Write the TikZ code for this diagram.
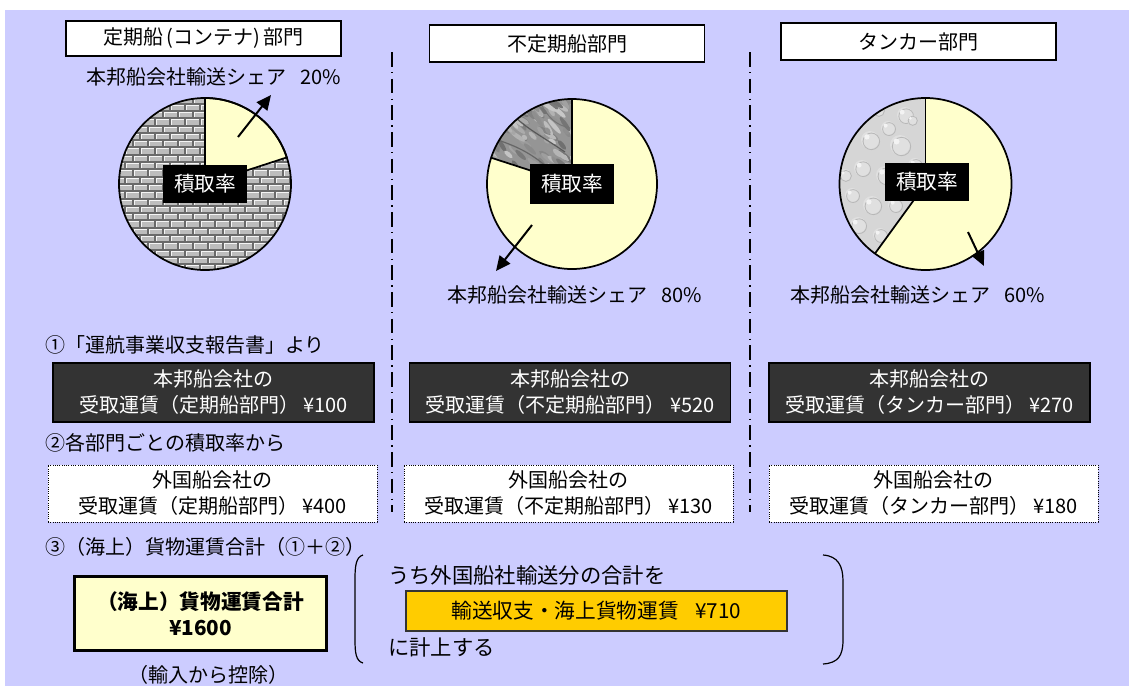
\documentclass[tikz,border=0pt]{standalone}
\usepackage{fontspec}
\setmainfont{Noto Sans CJK JP}
\usetikzlibrary{arrows.meta}
\definecolor{lav}{HTML}{CCCCFF}
\definecolor{pieyel}{HTML}{FFFFCC}
\definecolor{boxdark}{HTML}{333333}
\definecolor{orangebox}{HTML}{FFCC00}
\definecolor{mortar}{HTML}{6A6A6A}
\definecolor{brick}{HTML}{BDBDBD}
\definecolor{granite}{HTML}{959595}
\definecolor{pebble}{HTML}{D6D6D6}
\tikzset{
  txt/.style={font=\fontsize{15}{19.5}\selectfont, inner sep=0pt, align=center},
  lefttxt/.style={font=\fontsize{15}{19.5}\selectfont, inner sep=0pt, anchor=west},
  bigtxt/.style={font=\fontsize{16}{20}\selectfont, inner sep=0pt, anchor=west},
  titlebox/.style={draw=black, line width=1.1pt, fill=white, minimum width=206pt, minimum height=26.5pt, inner sep=0pt, font=\fontsize{15}{19.5}\selectfont},
  ratebox/.style={fill=black, text=white, minimum width=63pt, minimum height=28.5pt, inner sep=0pt, font=\fontsize{15.5}{19.5}\selectfont},
  darkbox/.style={fill=boxdark, draw=black, line width=1pt, text=white, minimum width=240.75pt, minimum height=44.25pt, inner sep=0pt, align=center, font=\fontsize{15}{19.5}\selectfont},
  whitebox/.style={fill=white, draw=black, densely dotted, line width=0.7pt, minimum width=246.75pt, minimum height=42.75pt, inner sep=0pt, align=center, font=\fontsize{15}{19.5}\selectfont},
  totalbox/.style={fill=pieyel, draw=black, line width=2.4pt, minimum width=189pt, minimum height=55.5pt, inner sep=0pt, align=center, font=\fontsize{15.5}{19.5}\selectfont\bfseries},
  orangebx/.style={fill=orangebox, draw=boxdark, line width=0.8pt, minimum width=285.75pt, minimum height=30pt, inner sep=0pt, font=\fontsize{15.5}{19.5}\selectfont},
  ptr/.style={line width=1.5pt, -{Triangle[length=11pt,width=10pt]}},
  sep/.style={line width=1.3pt, dash pattern=on 11pt off 4pt on 1pt off 4pt},
  pieline/.style={line width=1.3pt, draw=black},
  brk/.style={line width=0.9pt, draw=black}
}
\begin{document}
\begin{tikzpicture}[x=0.75pt,y=-0.75pt]
\useasboundingbox (0,0) rectangle (1129,686);
\fill[white] (0,0) rectangle (1129,686);
\fill[lav] (5,10) rectangle (1129,686);

% separators
\coordinate (s1t) at (392,52); \coordinate (s1b) at (392,512);
\coordinate (s2t) at (750,52); \coordinate (s2b) at (750,512);
\draw[sep] (s1t) -- (s1b);
\draw[sep] (s2t) -- (s2b);

% titles
\node[titlebox] (t1) at (203.5,38.5) {定期船\,(コンテナ)\,部門};
\node[titlebox, minimum height=27.75pt] (t2) at (567,43.5) {不定期船部門};
\node[titlebox, minimum height=27.75pt] (t3) at (918.5,41.5) {タンカー部門};

% ---------- pie 1 ----------
\coordinate (p1) at (205,184);
\begin{scope}
  \clip (p1) circle[radius=86];
  \fill[mortar] (p1) circle[radius=86];
  \foreach \r in {0,...,24} {
    \pgfmathsetmacro\yy{96+\r*7.3}
    \pgfmathsetmacro\off{mod(\r,2)*7.5}
    \foreach \c in {0,...,13} {
      \fill[brick] ({104+\off+\c*15},{\yy+1.6}) rectangle ++(12.6,5);
      \draw[white!85!brick, line width=0.4pt] ({104+\off+\c*15},{\yy+6.6}) -- ++(0,-5) -- ++(12.6,0);
    }
  }
\end{scope}
\filldraw[fill=pieyel, pieline] (p1) -- ++(-90:86) arc[start angle=-90, end angle=-18, radius=86] -- cycle;
\draw[pieline] (p1) circle[radius=86];
\coordinate (a1s) at (238,137); \coordinate (a1e) at (271,95);
\draw[ptr] (a1s) -- (a1e);
\node[ratebox] (r1) at (205,183.5) {積取率};
\node[txt] (l1) at (214,77) {本邦船会社輸送シェア\hspace{0.7em}20\%};

% ---------- pie 2 ----------
\coordinate (p2) at (572,184);
\fill[pieyel] (p2) circle[radius=85];
\begin{scope}
  \clip (p2) -- ++(-162:85) arc[start angle=-162, end angle=-90, radius=85] -- cycle;
  \fill[granite] (p2) circle[radius=85];
  \pgfmathsetseed{7}
  \foreach \i in {1,...,140} {
    \pgfmathsetmacro\xx{480+rnd*95}
    \pgfmathsetmacro\yy{95+rnd*95}
    \pgfmathtruncatemacro\gg{22+rnd*36}
    \pgfmathsetmacro\rx{3+rnd*7}
    \pgfmathsetmacro\ang{-30-rnd*30}
    \fill[black!\gg, rotate around={\ang:(\xx,\yy)}] (\xx,\yy) ellipse[x radius=\rx, y radius=2.2];
  }
  \draw[black!65, line width=0.9pt] (510,112) .. controls (525,128) and (540,135) .. (565,152);
  \draw[black!60, line width=0.9pt] (498,140) .. controls (515,146) and (530,152) .. (548,168);
  \draw[black!55, line width=0.7pt] (540,102) .. controls (548,118) and (556,125) .. (570,128);
\end{scope}
\draw[pieline] (p2) -- ++(-162:85);
\draw[pieline] (p2) -- ++(-90:85);
\draw[pieline] (p2) circle[radius=85];
\coordinate (a2s) at (532,225); \coordinate (a2e) at (496,271);
\draw[ptr] (a2s) -- (a2e);
\node[ratebox, minimum height=30pt] (r2) at (572,184) {積取率};
\node[txt] (l2) at (574.5,295) {本邦船会社輸送シェア\hspace{0.7em}80\%};

% ---------- pie 3 ----------
\coordinate (p3) at (925.5,184);
\fill[pieyel] (p3) circle[radius=86];
\begin{scope}
  \clip (p3) -- ++(-234:86) arc[start angle=-234, end angle=-90, radius=86] -- cycle;
  \fill[pebble] (p3) circle[radius=86];
  \foreach \px/\py/\pr in {905/115/8, 888/128/7, 870/140/9, 900/145/10, 915/165/7, 862/168/8, 885/175/9,
                           852/195/7, 872/205/9, 895/205/7, 858/225/8, 880/235/7, 845/175/6, 912/120/5, 878/110/6, 918/190/6}
  {
    \fill[black!12] (\px,\py) circle[radius=\pr];
    \draw[black!28, line width=0.6pt] ({\px+\pr*0.15},{\py+\pr*0.15}) circle[radius=\pr*0.92];
    \fill[white!70!pebble] ({\px-\pr*0.35},{\py-\pr*0.35}) circle[radius=\pr*0.3];
  }
\end{scope}
\draw[pieline] (p3) -- ++(-234:86);
\draw[pieline] (p3) -- ++(-90:86);
\draw[pieline] (p3) circle[radius=86];
\coordinate (a3s) at (968,232); \coordinate (a3e) at (984,266);
\draw[ptr] (a3s) -- (a3e);
\node[ratebox] (r3) at (927,181.5) {積取率};
\node[txt] (l3) at (917.5,295) {本邦船会社輸送シェア\hspace{0.7em}60\%};

% ---------- step texts ----------
\node[lefttxt] (st1) at (45,345) {①「運航事業収支報告書」より};
\node[lefttxt] (st2) at (45,443) {②各部門ごとの積取率から};
\node[lefttxt] (st3) at (45,547) {③（海上）貨物運賃合計（①＋②）};

% dark boxes
\node[darkbox] (b1) at (213.5,392.5) {本邦船会社の\\受取運賃（定期船部門） ¥100};
\node[darkbox] (b2) at (570,392.5) {本邦船会社の\\受取運賃（不定期船部門） ¥520};
\node[darkbox] (b3) at (929.5,392.5) {本邦船会社の\\受取運賃（タンカー部門） ¥270};

% white boxes
\node[whitebox] (w1) at (212.5,493.5) {外国船会社の\\受取運賃（定期船部門） ¥400};
\node[whitebox] (w2) at (568.5,493.5) {外国船会社の\\受取運賃（不定期船部門） ¥130};
\node[whitebox] (w3) at (933.5,493.5) {外国船会社の\\受取運賃（タンカー部門） ¥180};

% total
\node[totalbox] (tot) at (200.5,613.5) {（海上）貨物運賃合計\\¥1600};
\node[txt] (imp) at (208,675) {（輸入から控除）};

% bracket part
\draw[brk] (363,555) .. controls (356,557) and (355,566) .. (355,579) -- (355,640) .. controls (355,653) and (356,661) .. (363,663);
\draw[brk] (823,555) .. controls (838,556) and (843,566) .. (843,581) -- (843,640) .. controls (843,656) and (838,663) .. (823,664);
\node[bigtxt] (bt1) at (388,575) {うち外国船社輸送分の合計を};
\node[orangebx] (ob) at (596.5,611) {輸送収支・海上貨物運賃\hspace{0.8em}¥710};
\node[bigtxt] (bt2) at (388,647) {に計上する};
\end{tikzpicture}
\end{document}
